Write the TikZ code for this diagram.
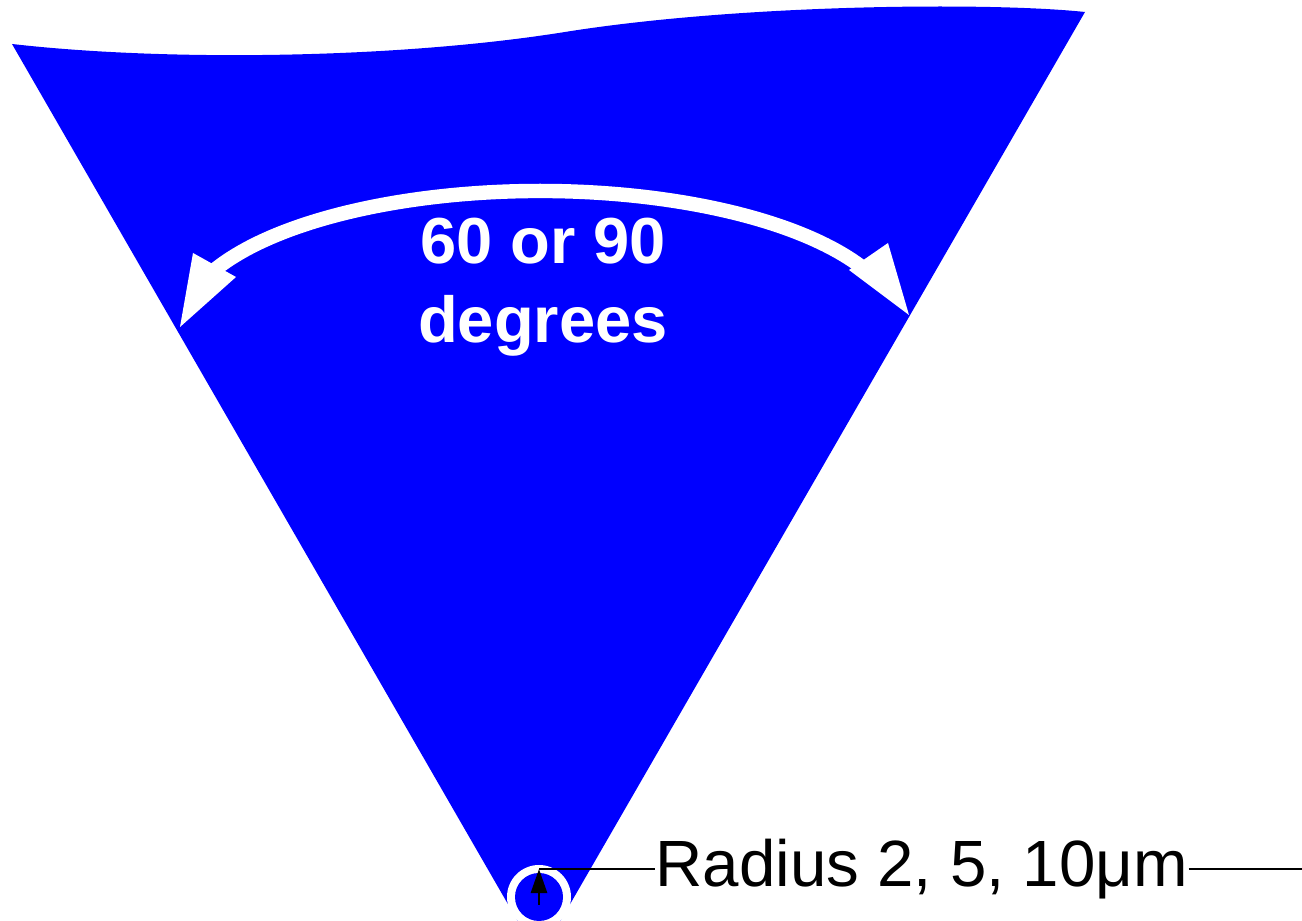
\documentclass[tikz,border=0pt]{standalone}
\usepackage{fontspec}
\setmainfont{Liberation Sans}
\definecolor{WedgeBlue}{HTML}{0000FF}
\usetikzlibrary{arrows.meta}

\begin{document}
\begin{tikzpicture}[
  x=0.01cm, y=0.01cm,
  wedge/.style={fill=WedgeBlue, draw=none},
  band/.style={draw=white, line width=4.1pt},
  head/.style={fill=white, draw=none},
  lbl/.style={text=white, inner sep=0pt, align=center,
    font=\fontsize{18.5pt}{22.5pt}\selectfont\bfseries},
  rlbl/.style={text=black, inner sep=0pt, font=\fontsize{18.6pt}{22pt}\selectfont},
  lead/.style={black, line width=0.8pt},
  ptr/.style={-{Triangle[length=0.24cm, width=0.16cm]}, black, line width=0.8pt},
]
  \useasboundingbox (0,0) rectangle (1302,921);
  \clip (0,0) rectangle (1302,921);
  % wedge
  \fill[wedge] (12,877) .. controls (170,859) and (400,862.6) .. (565,889)
    .. controls (740,917) and (990,919) .. (1085,909) -- (539,-37) -- cycle;
  % tip
  \fill[white] (539,24) circle[radius=32];
  \fill[wedge] (539,24) circle[radius=24];
  % angle
  \draw[band] (540,592) ++(155:360 and 138)
    arc[start angle=155, end angle=25, x radius=360, y radius=138];
  \fill[head] (180,594) -- (193,668) -- (236,644) -- cycle;
  \fill[head] (909,606) -- (888,678) -- (849,651) -- cycle;
  \node[lbl, anchor=base] (angle) at (543,578) {60 or 90\\degrees};
  % radius
  \coordinate (ptrtop) at (539,52);
  \coordinate (ptrbase) at (539,16);
  \coordinate (rim) at (1302,52);
  \node[rlbl, anchor=base west] (radius) at (655,34) {Radius 2, 5, 10μm};
  \draw[ptr] (ptrbase) -- (ptrtop);
  \draw[lead] (ptrtop) -- (ptrtop -| radius.west);
  \draw[lead] (radius.east |- ptrtop) -- (rim);
\end{tikzpicture}
\end{document}
